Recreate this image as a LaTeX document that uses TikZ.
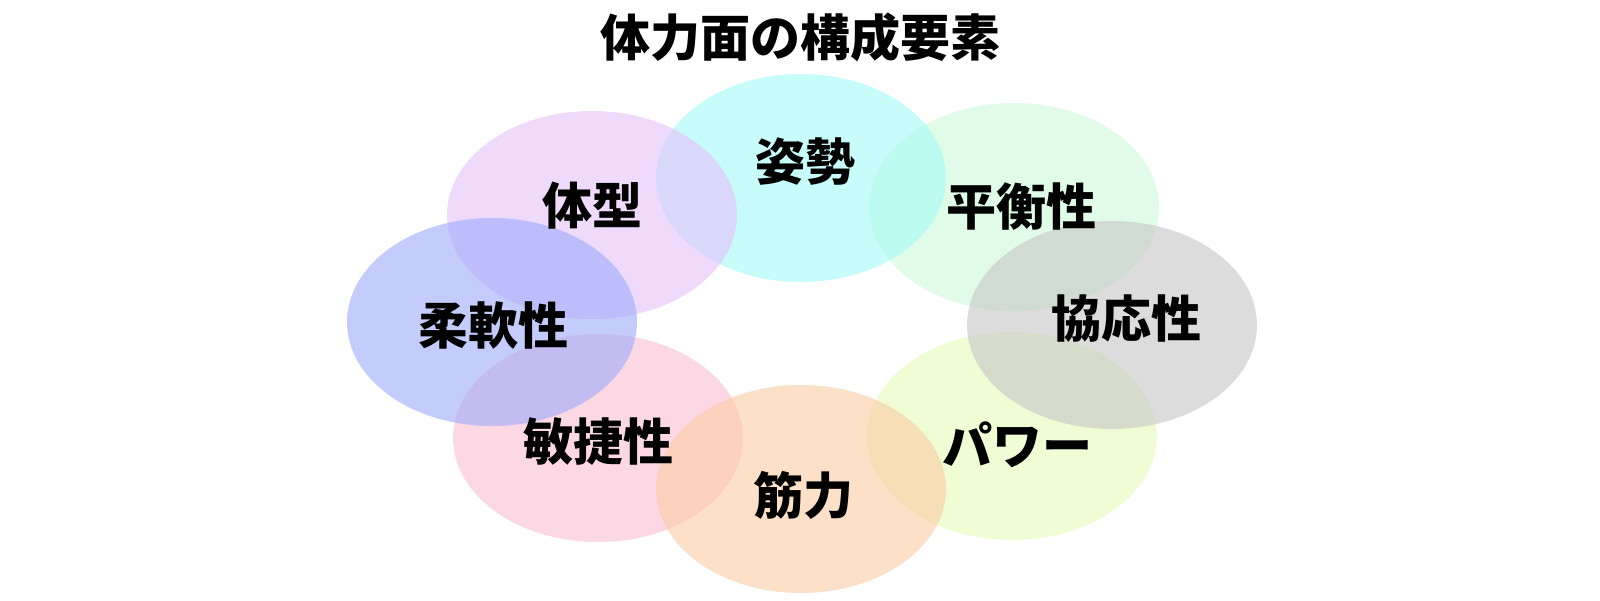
\documentclass[tikz,border=0pt]{standalone}
\usepackage{fontspec}
\newfontfamily\jpfont{Noto Sans CJK JP}
\usetikzlibrary{shapes.geometric}
\definecolor{vert}{RGB}{203, 250, 217}
\definecolor{jaune}{RGB}{230, 250, 183}
\definecolor{rose}{RGB}{250, 190, 210}
\definecolor{cyan}{RGB}{163, 250, 247}
\definecolor{violet}{RGB}{230, 193, 250}
\definecolor{bleu}{RGB}{157, 170, 250}
\definecolor{gris}{RGB}{197, 197, 197}
\definecolor{orange}{RGB}{250, 203, 163}

\begin{document}
\begin{tikzpicture}[x=0.5pt, y=-0.5pt,
		bulle/.style={ellipse, minimum width=145pt, minimum height=104pt, inner sep=0pt, fill opacity=0.6},
		mot/.style={font=\jpfont\bfseries\fontsize{25}{30}\selectfont, inner sep=0pt}]
			\useasboundingbox (0,0) rectangle (1600,600);

			% ellipses
			\foreach \x/\y/\c/\n in {1014/207/vert/heikou, 1012/436/jaune/power, 598/438/rose/binshou,
				801/178/cyan/shisei, 592/215/violet/taikei, 492/322/bleu/juunan,
				1112/325/gris/kyouou, 801/489/orange/kinryoku} {
				\node[bulle, fill=\c] (\n) at (\x,\y) {};
			}

			% textes
			\node[mot] (titre) at (800,37) {体力面の構成要素};
			\node[mot] (t-shisei) at (805,162) {姿勢};
			\node[mot] (t-taikei) at (592,206) {体型};
			\node[mot] (t-heikou) at (1021,207) {平衡性};
			\node[mot] (t-juunan) at (493,325) {柔軟性};
			\node[mot] (t-kyouou) at (1126,319) {協応性};
			\node[mot] (t-binshou) at (598,442) {敏捷性};
			\node[mot] (t-kinryoku) at (803,495) {筋力};
			\node[mot] (t-power) at (1017,445) {パワー};
		\end{tikzpicture}
\end{document}
